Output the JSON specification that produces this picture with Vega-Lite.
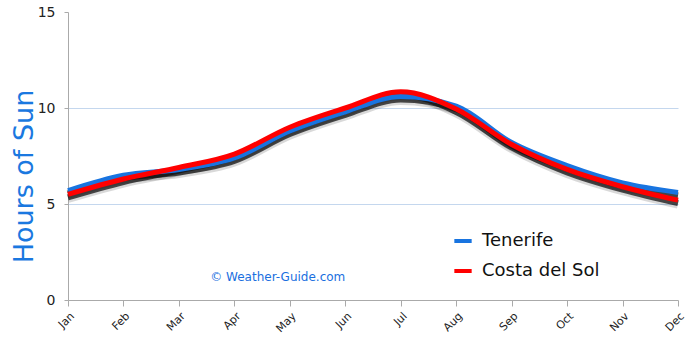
{
  "$schema": "https://vega.github.io/schema/vega-lite/v6.json",
  "autosize": "none",
  "width": 610,
  "height": 288,
  "padding": {"left": 68, "top": 12, "right": 12, "bottom": 40},
  "background": "white",
  "config": {
    "font": "DejaVu Sans",
    "view": {"stroke": null}
  },
  "datasets": {
    "sun": [
      {"month": "Jan", "city": "Tenerife", "hours": 5.7},
      {"month": "Feb", "city": "Tenerife", "hours": 6.5},
      {"month": "Mar", "city": "Tenerife", "hours": 6.8},
      {"month": "Apr", "city": "Tenerife", "hours": 7.4},
      {"month": "May", "city": "Tenerife", "hours": 8.8},
      {"month": "Jun", "city": "Tenerife", "hours": 9.8},
      {"month": "Jul", "city": "Tenerife", "hours": 10.6},
      {"month": "Aug", "city": "Tenerife", "hours": 10.1},
      {"month": "Sep", "city": "Tenerife", "hours": 8.2},
      {"month": "Oct", "city": "Tenerife", "hours": 7.0},
      {"month": "Nov", "city": "Tenerife", "hours": 6.1},
      {"month": "Dec", "city": "Tenerife", "hours": 5.6},
      {"month": "Jan", "city": "Costa del Sol", "hours": 5.5},
      {"month": "Feb", "city": "Costa del Sol", "hours": 6.3},
      {"month": "Mar", "city": "Costa del Sol", "hours": 6.9},
      {"month": "Apr", "city": "Costa del Sol", "hours": 7.6},
      {"month": "May", "city": "Costa del Sol", "hours": 9.0},
      {"month": "Jun", "city": "Costa del Sol", "hours": 10.0},
      {"month": "Jul", "city": "Costa del Sol", "hours": 10.85},
      {"month": "Aug", "city": "Costa del Sol", "hours": 9.95},
      {"month": "Sep", "city": "Costa del Sol", "hours": 8.1},
      {"month": "Oct", "city": "Costa del Sol", "hours": 6.8},
      {"month": "Nov", "city": "Costa del Sol", "hours": 5.9},
      {"month": "Dec", "city": "Costa del Sol", "hours": 5.2}
    ],
    "credit": [
      {"month": "Jun", "hours": 1.2, "label": "© Weather-Guide.com"}
    ]
  },
  "encoding": {
    "x": {
      "field": "month",
      "type": "ordinal",
      "sort": ["Jan","Feb","Mar","Apr","May","Jun","Jul","Aug","Sep","Oct","Nov","Dec"],
      "scale": {"type": "point", "padding": 0},
      "axis": {
        "title": null,
        "labelAngle": -45,
        "labelFontSize": 11,
        "labelColor": "#222222",
        "labelPadding": 4,
        "tickSize": 6,
        "tickColor": "#aaaaaa",
        "domainColor": "#aaaaaa",
        "grid": false
      }
    },
    "y": {
      "field": "hours",
      "type": "quantitative",
      "scale": {"domain": [0, 15], "nice": false},
      "axis": {
        "values": [0, 5, 10, 15],
        "title": "Hours of Sun",
        "titleColor": "#1a78e0",
        "titleFontSize": 27,
        "titleFontWeight": "normal",
        "titleAngle": -90,
        "titleAlign": "center",
        "titleBaseline": "middle",
        "titleX": -44,
        "titleY": 164,
        "labelFontSize": 14,
        "labelColor": "#222222",
        "labelPadding": 9,
        "tickSize": 4,
        "tickColor": "#aaaaaa",
        "domainColor": "#aaaaaa",
        "gridColor": "#c4d7ee",
        "gridWidth": 1,
        "gridOpacity": {"condition": {"test": "datum.value == 15 || datum.value == 0", "value": 0}, "value": 1}
      }
    }
  },
  "layer": [
    {
      "data": {"name": "sun"},
      "mark": {"type": "line", "interpolate": "monotone", "color": "black", "strokeWidth": 9, "opacity": 0.15, "yOffset": 4},
      "encoding": {"detail": {"field": "city"}}
    },
    {
      "data": {"name": "sun"},
      "mark": {"type": "line", "interpolate": "monotone", "color": "#111111", "strokeWidth": 6, "opacity": 0.75, "yOffset": 3},
      "encoding": {"detail": {"field": "city"}}
    },
    {
      "data": {"name": "sun"},
      "mark": {"type": "line", "interpolate": "monotone", "strokeWidth": 5},
      "encoding": {
        "color": {
          "field": "city",
          "type": "nominal",
          "scale": {"domain": ["Tenerife", "Costa del Sol"], "range": ["#1874e0", "#ff0000"]},
          "sort": ["Tenerife", "Costa del Sol"],
          "legend": {
            "title": null,
            "orient": "none",
            "legendX": 384,
            "legendY": 218,
            "symbolType": "stroke",
            "symbolStrokeWidth": 4,
            "symbolSize": 300,
            "labelFontSize": 18,
            "labelColor": "#111111",
            "rowPadding": 10,
            "labelOffset": 8
          }
        },
        "order": {"field": "city", "sort": "descending"}
      }
    },
    {
      "data": {"name": "credit"},
      "mark": {"type": "text", "align": "right", "baseline": "middle", "fontSize": 12, "color": "#1a6fe0"},
      "encoding": {"text": {"field": "label"}}
    },
    {
      "data": {"values": [{}]},
      "mark": {"type": "rule", "color": "#aaaaaa"},
      "encoding": {"x": {"datum": "Dec"}, "y": {"datum": 0}, "y2": {"datum": 15}}
    }
  ]
}
